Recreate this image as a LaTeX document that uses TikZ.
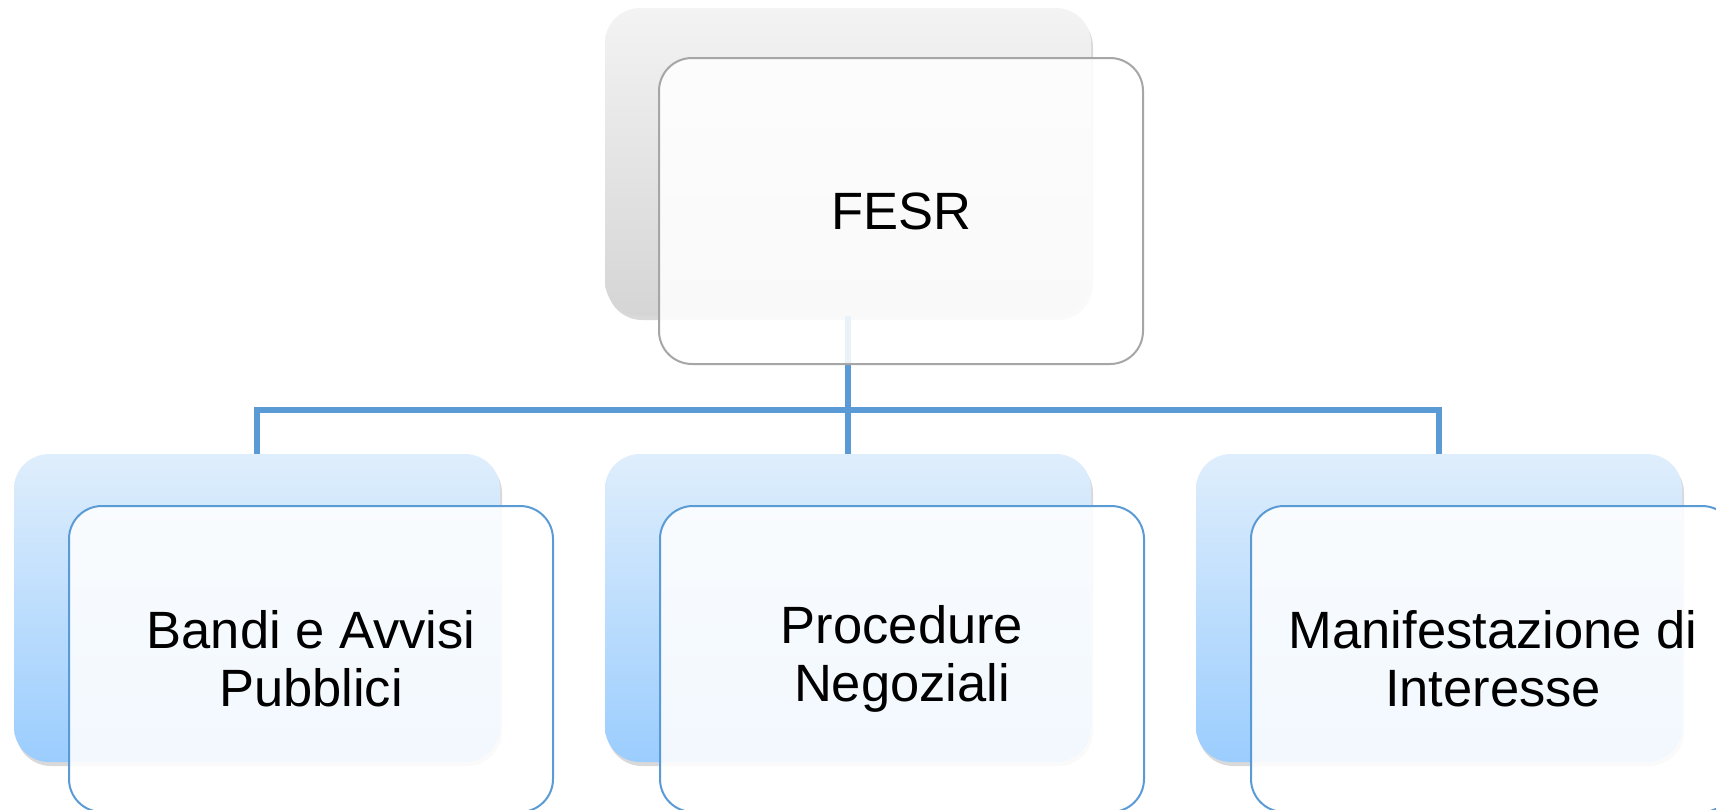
\documentclass[tikz,border=0pt]{standalone}
\usepackage{fontspec}
\setsansfont{Liberation Sans}
\usetikzlibrary{shadows}
\definecolor{linkblue}{HTML}{5B9BD5}
\definecolor{framegray}{HTML}{A6A6A6}
\definecolor{graytop}{HTML}{F3F3F3}
\definecolor{graybottom}{HTML}{D5D5D5}
\definecolor{bluetop}{HTML}{DFEEFC}
\definecolor{bluebottom}{HTML}{9BCDFE}
\tikzset{
  backbox/.style={rounded corners=35pt, minimum width=486pt, minimum height=308pt,
    inner sep=0pt, drop shadow={shadow xshift=2pt, shadow yshift=-4pt, opacity=0.3}},
  graybox/.style={backbox, top color=graytop, bottom color=graybottom},
  bluebox/.style={backbox, top color=bluetop, bottom color=bluebottom},
  frontbox/.style={draw, line width=2pt, rounded corners=33pt, minimum width=484pt,
    minimum height=306pt, inner sep=0pt, fill=white, fill opacity=0.87, text opacity=1,
    align=center, font=\sffamily\fontsize{52.5}{58}\selectfont},
  link/.style={draw=linkblue, line width=6pt}
}
\begin{document}
\begin{tikzpicture}[x=1pt, y=1pt]
  \useasboundingbox (0,0) rectangle (1716,-809);
  % top of the tree
  \node[graybox] (fesr-back) at (848,-162) {};
  \coordinate (bus) at (848,-410);
  % the three branches
  \foreach \name/\x/\txt in {bandi/257/{Bandi e Avvisi\\Pubblici},
      proc/848/{Procedure\\Negoziali}, manif/1439/{Manifestazione di\\Interesse}} {
    \node[bluebox] (\name-back) at (\x,-608) {};
    \draw[link] (fesr-back.south) -- (bus) -| (\name-back.north);
    \node[frontbox, draw=linkblue] (\name) at ([shift={(54,-51)}]\name-back.center) {\txt};
  }
  \node[frontbox, draw=framegray] (fesr) at ([shift={(53,-49)}]fesr-back.center) {FESR};
\end{tikzpicture}
\end{document}
